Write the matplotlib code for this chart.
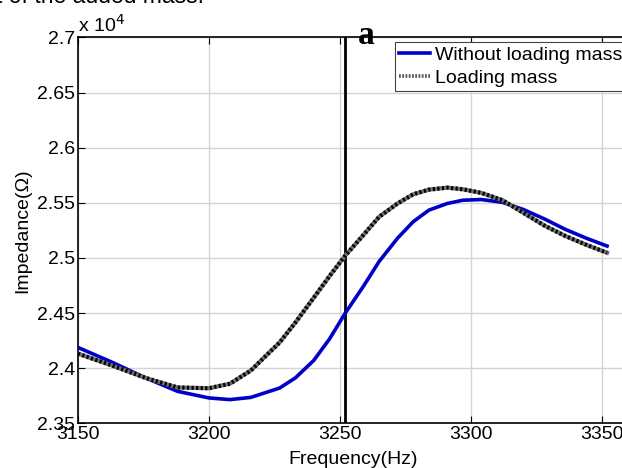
import numpy as np
import matplotlib.pyplot as plt
from matplotlib.ticker import FuncFormatter

# Impedance (x 10^4 Ohm)
freq = [3150, 3163, 3176, 3188, 3200, 3208, 3216, 3227, 3233, 3240, 3246, 3252, 3259,
        3265, 3272, 3278, 3284, 3291, 3297, 3304, 3312, 3320, 3328, 3336, 3344, 3352]
without_mass = [2.4188, 2.4054, 2.3910, 2.3790, 2.3730, 2.3715, 2.3735, 2.3820, 2.3912,
                2.4070, 2.4264, 2.4498, 2.4744, 2.4969, 2.5179, 2.5329, 2.5434, 2.5494,
                2.5524, 2.5530, 2.5505, 2.5440, 2.5355, 2.5260, 2.5180, 2.5108]
with_mass = [2.4132, 2.4024, 2.3910, 2.3825, 2.3818, 2.3859, 2.3979, 2.4234, 2.4414,
             2.4639, 2.4834, 2.5020, 2.5209, 2.5374, 2.5494, 2.5578, 2.5620, 2.5638,
             2.5623, 2.5590, 2.5525, 2.5410, 2.5295, 2.5200, 2.5120, 2.5047]
f_marker = 3252
xticks = [3150, 3200, 3250, 3300, 3350]
yticks = [2.35, 2.4, 2.45, 2.5, 2.55, 2.6, 2.65, 2.7]

plt.rcParams['font.family'] = ['Liberation Sans', 'DejaVu Sans']

fig = plt.figure(figsize=(6.22, 4.68), dpi=100)
ax = fig.add_axes([78/622, 44.7/468, 550/622, 385.8/468])

# remains of the caption above the figure
fig.text(-4/622, 1 - 3/468, "t of the added mass.", fontsize=16.5, va='baseline')

ax.grid(True, color="#d4d4d4", lw=1)
ax.axvline(f_marker, color="black", lw=2, zorder=4)
ax.plot(freq, without_mass, color="#0000c8", lw=2.6, label="Without loading mass", zorder=5)
ax.plot(freq, with_mass, color="#6e6e6e", lw=3, zorder=5)
ax.plot(freq, with_mass, color="black", lw=3, ls=(0, (0.5, 0.6)), zorder=6)
h2, = ax.plot([], [], color="#555555", lw=2.6, ls=(0, (0.5, 0.4)), label="Loading mass")

ax.set_xlim(3150, 3360)
ax.set_ylim(2.35, 2.7)
ax.set_xticks(xticks)
ax.set_yticks(yticks)
ax.yaxis.set_major_formatter(FuncFormatter(lambda v, p: "%g" % v))
ax.tick_params(direction="in", top=True, right=False, length=5, labelsize=14, pad=2)
ax.spines["right"].set_visible(False)
for s in ["left", "bottom", "top"]:
    ax.spines[s].set_linewidth(1.2)

ax.set_xlabel("Frequency(Hz)", fontsize=14, labelpad=6)
ax.set_ylabel("Impedance(Ω)", fontsize=14, labelpad=4)
ax.text(0.0, 1.005, r"x 10$^4$", transform=ax.transAxes, fontsize=14, va="bottom", ha="left")
ax.text(0.509, 0.983, "a", transform=ax.transAxes, fontsize=24, fontweight="bold",
        family="Liberation Serif", va="baseline", ha="left")

leg = ax.legend(loc="upper left", bbox_to_anchor=(395/622, 1 - 42/468),
                bbox_transform=fig.transFigure, fontsize=14, frameon=True,
                fancybox=False, framealpha=1, borderaxespad=0, borderpad=0.2,
                handlelength=1.6, handletextpad=0.25, labelspacing=0.3)
leg.get_frame().set_edgecolor("#444444")
leg.get_frame().set_linewidth(0.8)

fig.savefig("out.png", dpi=100)
